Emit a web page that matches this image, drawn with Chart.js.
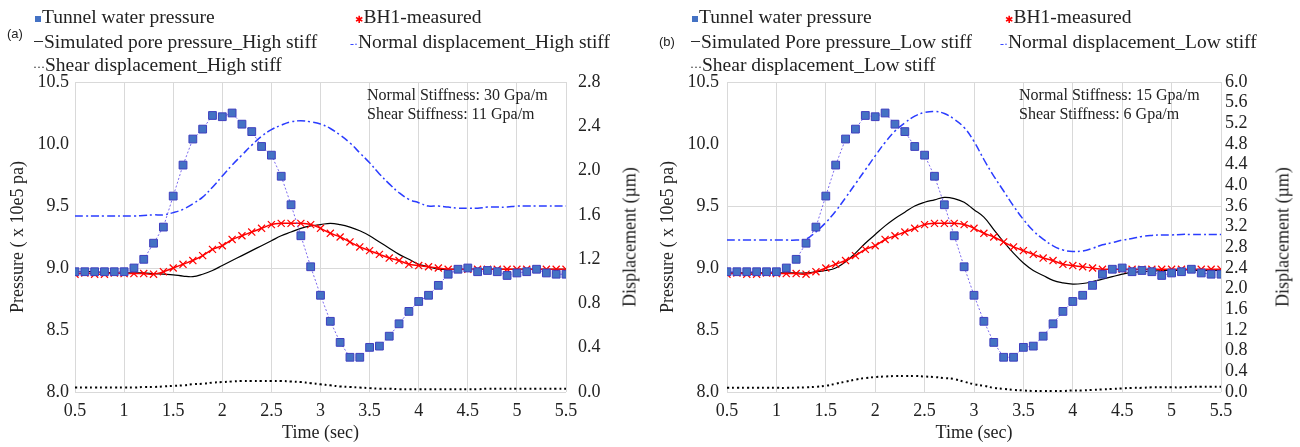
<!DOCTYPE html>
<html lang="en">
<head>
<meta charset="UTF-8">
<title>Tunnel water pressure and joint displacement</title>
<script src="https://cdn.jsdelivr.net/npm/chart.js"></script>
<style>
  body { margin:0; background:#fff; font-family:"Liberation Serif", "Times New Roman", serif; color:#222; }
  .panel { position:absolute; top:0; width:650px; height:447px; }
  .panel canvas { position:absolute; left:0; top:0; }
  .lg { position:absolute; font-size:19.5px; line-height:20px; white-space:nowrap; }
  .tag { position:absolute; font-family:"Liberation Sans", sans-serif; font-size:13px; line-height:16px; }
  .note { position:absolute; font-size:16px; line-height:19px; white-space:nowrap; }
  .rtitle { position:absolute; top:237px; font-size:18px; white-space:nowrap; transform:translate(-50%,-50%) rotate(-90deg); }
  .mk { display:inline-block; vertical-align:middle; }
</style>
</head>
<body>
<div class="panel" style="left:0">
  <canvas id="chartA" width="650" height="447"></canvas>
  <div class="lg" style="left:35px;top:7px"><span class="mk" style="width:6px;height:6px;background:#4472c4;margin-right:1px"></span>Tunnel water pressure</div>
  <div class="lg" style="left:355px;top:7px"><span style="color:#f00;font-family:'DejaVu Sans';font-size:10px">✱</span>BH1-measured</div>
  <div class="tag" style="left:7px;top:26px">(a)</div>
  <div class="lg" style="left:33px;top:32px">−Simulated pore pressure_High stiff</div>
  <div class="lg" style="left:350px;top:32px"><span style="color:#2a3cff;font-size:12px">-·</span>Normal displacement_High stiff</div>
  <div class="lg" style="left:33px;top:55px"><span style="font-size:12px">···</span>Shear displacement_High stiff</div>
  <div class="note" style="left:367px;top:85px">Normal Stiffness: 30 Gpa/m<br>Shear Stiffness: 11 Gpa/m</div>
  <div class="rtitle" style="left:630px">Displacement (µm)</div>
</div>
<div class="panel" style="left:650px">
  <canvas id="chartB" width="650" height="447"></canvas>
  <div class="lg" style="left:42px;top:7px"><span class="mk" style="width:6px;height:6px;background:#4472c4;margin-right:1px"></span>Tunnel water pressure</div>
  <div class="lg" style="left:355px;top:7px"><span style="color:#f00;font-family:'DejaVu Sans';font-size:10px">✱</span>BH1-measured</div>
  <div class="tag" style="left:9px;top:34px">(b)</div>
  <div class="lg" style="left:40px;top:32px">−Simulated Pore pressure_Low stiff</div>
  <div class="lg" style="left:350px;top:32px"><span style="color:#2a3cff;font-size:12px">-·</span>Normal displacement_Low stiff</div>
  <div class="lg" style="left:40px;top:55px"><span style="font-size:12px">···</span>Shear displacement_Low stiff</div>
  <div class="note" style="left:369px;top:85px">Normal Stiffness: 15 Gpa/m<br>Shear Stiffness: 6 Gpa/m</div>
  <div class="rtitle" style="left:633px">Displacement (µm)</div>
</div>
<script>
const time = [0.5,0.6,0.7,0.8,0.9,1.0,1.1,1.2,1.3,1.4,1.5,1.6,1.7,1.8,1.9,2.0,2.1,2.2,2.3,2.4,2.5,2.6,2.7,2.8,2.9,3.0,
  3.1,3.2,3.3,3.4,3.5,3.6,3.7,3.8,3.9,4.0,4.1,4.2,4.3,4.4,4.5,4.6,4.7,4.8,4.9,5.0,5.1,5.2,5.3,5.4,5.5];

// measured (same in both panels)
const tunnelPressure = [8.97,8.97,8.97,8.97,8.97,8.97,9.00,9.07,9.20,9.33,9.58,9.83,10.04,10.12,10.23,10.22,10.25,10.16,10.10,9.98,9.91,9.74,9.51,9.26,9.01,8.78,
  8.57,8.40,8.28,8.28,8.36,8.37,8.45,8.55,8.65,8.73,8.78,8.86,8.95,8.99,9.00,8.97,8.98,8.97,8.94,8.96,8.97,8.99,8.96,8.95,8.95];
const bh1Measured = [8.95,8.96,8.95,8.95,8.96,8.955,8.955,8.955,8.95,8.97,9.00,9.03,9.06,9.10,9.15,9.18,9.23,9.26,9.29,9.32,9.35,9.36,9.36,9.36,9.35,9.32,
  9.28,9.25,9.21,9.17,9.14,9.11,9.08,9.06,9.03,9.02,9.01,9.00,8.99,8.99,8.99,8.99,8.99,8.99,8.99,8.99,8.99,8.99,8.99,8.99,8.99];

// (a) high stiffness
const poreHigh = [8.97,8.97,8.97,8.965,8.96,8.96,8.96,8.96,8.955,8.95,8.945,8.935,8.93,8.95,8.98,9.02,9.06,9.10,9.14,9.18,9.22,9.26,9.29,9.32,9.34,9.35,
  9.36,9.35,9.33,9.30,9.26,9.21,9.16,9.11,9.07,9.03,9.01,8.99,8.99,8.99,8.99,8.99,8.99,8.99,8.99,8.99,8.99,8.99,8.99,8.99,8.99];
const normalHigh = [1.59,1.59,1.59,1.59,1.59,1.59,1.59,1.595,1.60,1.60,1.62,1.65,1.70,1.76,1.85,1.95,2.05,2.14,2.23,2.31,2.37,2.41,2.44,2.45,2.44,2.42,
  2.38,2.32,2.25,2.16,2.07,1.97,1.88,1.80,1.74,1.71,1.68,1.68,1.67,1.66,1.66,1.66,1.67,1.67,1.67,1.68,1.68,1.68,1.68,1.68,1.68];
const shearHigh = [0.04,0.04,0.04,0.04,0.04,0.04,0.04,0.045,0.045,0.05,0.055,0.06,0.07,0.075,0.085,0.09,0.095,0.1,0.1,0.1,0.1,0.1,0.095,0.09,0.08,0.07,
  0.06,0.05,0.045,0.04,0.035,0.03,0.03,0.025,0.025,0.025,0.025,0.025,0.025,0.025,0.025,0.025,0.03,0.03,0.03,0.03,0.03,0.03,0.03,0.03,0.03];

// (b) low stiffness
const poreLow = [8.96,8.96,8.96,8.96,8.96,8.96,8.96,8.96,8.96,8.97,8.98,9.00,9.05,9.12,9.20,9.27,9.34,9.40,9.45,9.50,9.53,9.55,9.57,9.56,9.53,9.47,
  9.41,9.31,9.21,9.12,9.04,8.98,8.94,8.90,8.88,8.87,8.875,8.89,8.91,8.93,8.95,8.965,8.97,8.975,8.98,8.98,8.98,8.98,8.98,8.98,8.98];
const normalLow = [2.94,2.94,2.94,2.94,2.94,2.94,2.94,2.94,2.96,3.10,3.28,3.50,3.76,4.03,4.30,4.57,4.83,5.05,5.21,5.34,5.41,5.43,5.39,5.28,5.12,4.85,
  4.50,4.18,3.89,3.60,3.34,3.12,2.96,2.83,2.75,2.72,2.73,2.78,2.85,2.89,2.94,2.97,3.01,3.03,3.04,3.04,3.05,3.05,3.05,3.05,3.05];
const shearLow = [0.08,0.08,0.08,0.08,0.08,0.08,0.08,0.085,0.09,0.1,0.12,0.16,0.2,0.24,0.27,0.29,0.3,0.31,0.31,0.31,0.3,0.29,0.27,0.25,0.2,0.15,
  0.12,0.08,0.06,0.04,0.03,0.02,0.02,0.02,0.02,0.03,0.03,0.04,0.05,0.06,0.07,0.08,0.08,0.09,0.09,0.09,0.09,0.1,0.1,0.1,0.1];

const serif = "'Liberation Serif', 'Times New Roman', serif";
const ink = '#222';
const pts = (xs, ys) => xs.map((x, i) => ({ x: x, y: ys[i] }));

function makeChart(id, pore, normal, shear, o) {
  new Chart(document.getElementById(id), {
    type: 'line',
    data: {
      datasets: [
        { label: 'Tunnel water pressure', data: pts(time, tunnelPressure), yAxisID: 'y',
          borderColor: '#7b68ee', borderWidth: 1, borderDash: [2, 2], tension: 0,
          pointStyle: 'rect', pointRadius: 5.5, pointBackgroundColor: '#4472c4', pointBorderColor: '#3f3fbf', pointBorderWidth: 1 },
        { label: 'BH1-measured', data: pts(time, bh1Measured), yAxisID: 'y',
          borderColor: '#ff0000', borderWidth: 1.5, tension: 0.3,
          pointStyle: 'crossRot', pointRadius: 5, pointBorderColor: '#ff0000', pointBorderWidth: 1.2 },
        { label: 'Simulated pore pressure', data: pts(time, pore), yAxisID: 'y',
          borderColor: '#000', borderWidth: 1.2, pointRadius: 0, tension: 0.4 },
        { label: 'Normal displacement', data: pts(time, normal), yAxisID: 'y2',
          borderColor: '#2a3cff', borderWidth: 1.5, borderDash: [8, 3, 2, 3], pointRadius: 0, tension: 0.4 },
        { label: 'Shear displacement', data: pts(time, shear), yAxisID: 'y2',
          borderColor: '#000', borderWidth: 2, borderDash: [2, 3], pointRadius: 0, tension: 0.4 }
      ]
    },
    options: {
      responsive: false,
      animation: false,
      layout: { padding: { top: 82, left: 0, right: 0, bottom: 0 } },
      plugins: { legend: { display: false }, tooltip: { enabled: false } },
      scales: {
        x: {
          type: 'linear', min: 0.5, max: 5.5,
          afterFit: s => { s.height = 55; },
          ticks: { stepSize: 0.5, padding: 8, maxRotation: 0, autoSkip: false, color: ink,
            font: { family: serif, size: 18 }, callback: v => String(v) },
          grid: { color: '#d9d9d9', drawTicks: false },
          border: { display: false },
          title: { display: true, text: 'Time (sec)', color: ink, font: { family: serif, size: 18 }, padding: { top: 0, bottom: 3 } }
        },
        y: {
          position: 'left', min: 8, max: 10.5,
          afterFit: s => { s.width = o.leftW; },
          ticks: { stepSize: 0.5, padding: o.leftPad, autoSkip: false, color: ink, font: { family: serif, size: 18 }, callback: v => v.toFixed(1) },
          grid: { drawTicks: false,
            color: c => (c.tick && [8, 10.5, o.cross].includes(c.tick.value)) ? '#d9d9d9' : 'rgba(0,0,0,0)' },
          border: { display: false },
          title: { display: true, text: 'Pressure ( x 10e5 pa)', color: ink, font: { family: serif, size: 18 }, padding: { top: 7, bottom: 0 } }
        },
        y2: {
          position: 'right', min: 0, max: o.rightMax,
          afterFit: s => { s.width = o.rightW; },
          ticks: { stepSize: 0.4, padding: o.rightPad, autoSkip: false, color: ink, font: { family: serif, size: 18 }, callback: v => v.toFixed(1) },
          grid: { display: false, drawTicks: false },
          border: { display: false }
        }
      }
    }
  });
}

makeChart('chartA', poreHigh, normalHigh, shearHigh, { leftW: 75, leftPad: 6, rightW: 84, rightPad: 12, rightMax: 2.8, cross: 9 });
makeChart('chartB', poreLow, normalLow, shearLow, { leftW: 77, leftPad: 8, rightW: 79, rightPad: 4, rightMax: 6.0, cross: 9.5 });
</script>
</body>
</html>
